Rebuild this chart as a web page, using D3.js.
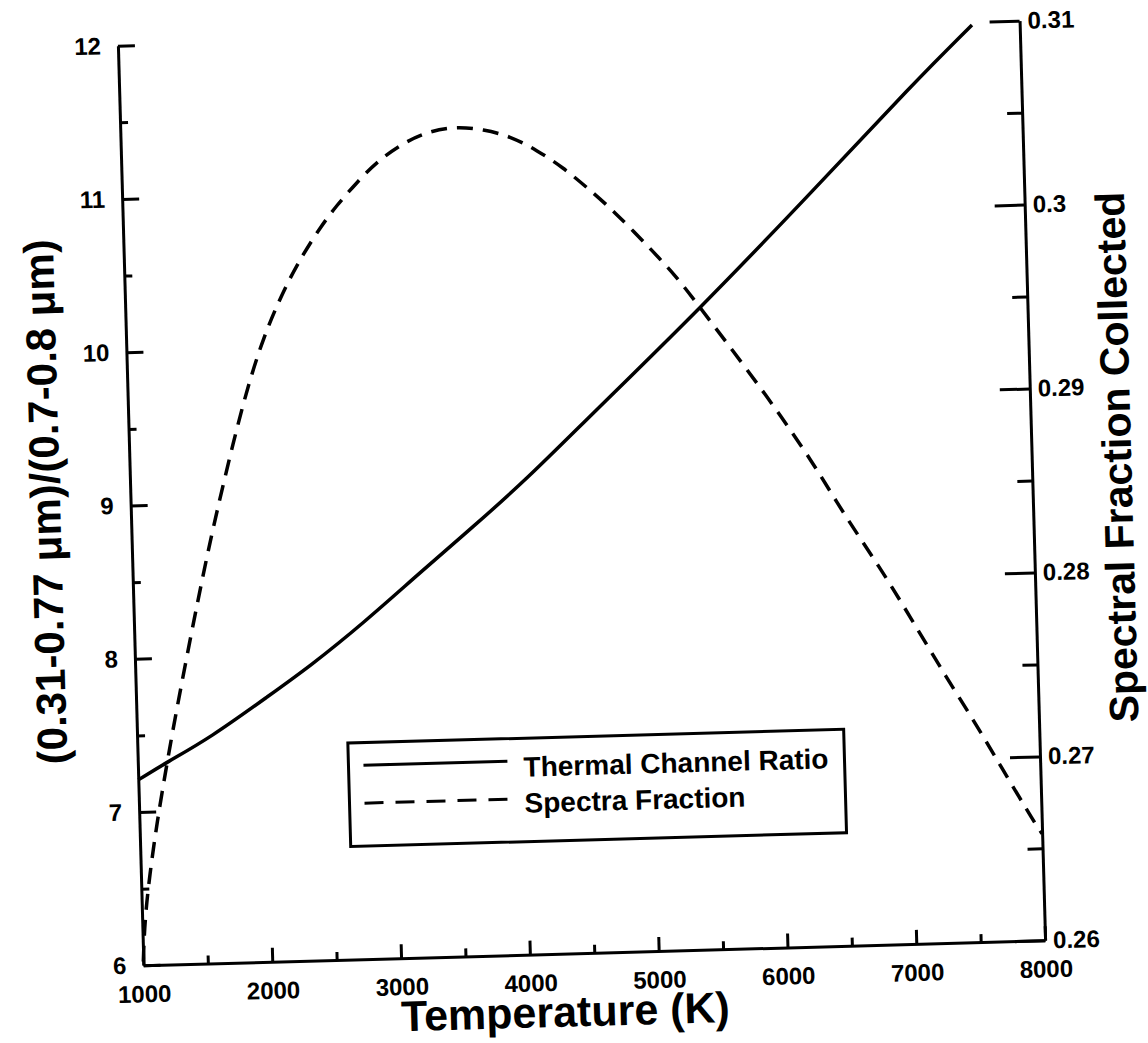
<!DOCTYPE html>
<html>
<head>
<meta charset="utf-8">
<script src="https://cdn.jsdelivr.net/npm/d3@7"></script>
<style>
  html, body { margin: 0; padding: 0; background: #fff; }
  svg text { font-family: "Liberation Sans", Arial, Helvetica, sans-serif; font-weight: bold; fill: #000; }
</style>
</head>
<body>
<svg id="chart" width="1148" height="1043"></svg>
<script>
// ---- data ----
const ratioTemps = [1000, 1225, 1565, 2040, 2357, 2779, 3230, 3653, 4078, 4582, 5459, 6363, 7162, 7630];
const ratioValues = [7.21, 7.32, 7.47, 7.74, 7.92, 8.19, 8.51, 8.80, 9.10, 9.50, 10.18, 10.93, 11.61, 11.98];

const fracTemps = [1000, 1023, 1102, 1179, 1283, 1431, 1579, 1695, 1896, 2066, 2257, 2393, 2528, 2663, 2823, 2983,
  3193, 3403, 3611, 3816, 4022, 4226, 4429, 4606, 4808, 5083, 5285, 5459, 5633, 5958, 6304, 6526, 6800, 7021,
  7293, 7515, 7687, 7960, 8000];
const fracValues = [0.2602, 0.2628, 0.2664, 0.2693, 0.2729, 0.2776, 0.2821, 0.2853, 0.2905, 0.2940, 0.2968, 0.2984,
  0.2998, 0.3010, 0.3022, 0.3033, 0.3043, 0.3049, 0.3051, 0.3049, 0.3045, 0.3037, 0.3027, 0.3016, 0.3003, 0.2982,
  0.2966, 0.2949, 0.2932, 0.2900, 0.2863, 0.2835, 0.2805, 0.2778, 0.2744, 0.2718, 0.2696, 0.2662, 0.2658];

const xMajorTicks = [1000, 2000, 3000, 4000, 5000, 6000, 7000, 8000];
const xMinorTicks = [1500, 2500, 3500, 4500, 5500, 6500, 7500];
const leftMajorTicks = [6, 7, 8, 9, 10, 11, 12];
const leftMinorTicks = [6.5, 7.5, 8.5, 9.5, 10.5, 11.5];
const rightMajorTicks = [0.26, 0.27, 0.28, 0.29, 0.30, 0.31];
const rightMinorTicks = [0.265, 0.275, 0.285, 0.295, 0.305];
const rightTickLabels = ["0.26", "0.27", "0.28", "0.29", "0.3", "0.31"];

const xTitle = "Temperature (K)";
const leftTitle = "(0.31-0.77 \u03BCm)/(0.7-0.8 \u03BCm)";
const rightTitle = "Spectral Fraction Collected";
const legendLabels = ["Thermal Channel Ratio", "Spectra Fraction"];

// ---- layout ----
const L = 130.5, R = 1032.5, T = 33, B = 953;
const svg = d3.select("#chart");
svg.append("rect").attr("width", 1148).attr("height", 1043).attr("fill", "#fff");
const g = svg.append("g").attr("transform", "rotate(-1.59, 581.5, 493.25)");

const x = d3.scaleLinear().domain([1000, 8000]).range([L, R]);
const yL = d3.scaleLinear().domain([6, 12]).range([B, T]);
const yR = d3.scaleLinear().domain([0.26, 0.31]).range([B, T]);

function styleAxis(sel, fs) {
  sel.select(".domain").attr("stroke", "#000").attr("stroke-width", 3);
  sel.selectAll(".tick line").attr("stroke", "#000").attr("stroke-width", 3);
  sel.selectAll(".tick text").style("font-size", fs + "px").attr("fill", "#000");
  sel.attr("font-family", null).attr("font-size", null);
}

// bottom axis
const xAx = g.append("g").attr("transform", `translate(0,${B})`)
  .call(d3.axisBottom(x).tickValues(xMajorTicks).tickSizeInner(-14).tickSizeOuter(0).tickPadding(20).tickFormat(d3.format("d")));
styleAxis(xAx, 24);
const xAxMin = g.append("g").attr("transform", `translate(0,${B})`)
  .call(d3.axisBottom(x).tickValues(xMinorTicks).tickSizeInner(-8).tickSizeOuter(0).tickFormat(""));
styleAxis(xAxMin, 24);
xAxMin.select(".domain").remove();

// left axis
const lAx = g.append("g").attr("transform", `translate(${L},0)`)
  .call(d3.axisLeft(yL).tickValues(leftMajorTicks).tickSizeInner(-17).tickSizeOuter(0).tickPadding(17).tickFormat(d3.format("d")));
styleAxis(lAx, 24);
const lAxMin = g.append("g").attr("transform", `translate(${L},0)`)
  .call(d3.axisLeft(yL).tickValues(leftMinorTicks).tickSizeInner(-8).tickSizeOuter(0).tickFormat(""));
styleAxis(lAxMin, 24);
lAxMin.select(".domain").remove();

// right axis
const rAx = g.append("g").attr("transform", `translate(${R},0)`)
  .call(d3.axisRight(yR).tickValues(rightMajorTicks).tickSizeInner(-30).tickSizeOuter(0).tickPadding(8)
    .tickFormat((d, i) => rightTickLabels[i]));
styleAxis(rAx, 24);
const rAxMin = g.append("g").attr("transform", `translate(${R},0)`)
  .call(d3.axisRight(yR).tickValues(rightMinorTicks).tickSizeInner(-15).tickSizeOuter(0).tickFormat(""));
styleAxis(rAxMin, 24);
rAxMin.select(".domain").remove();

// curves
const ratioData = ratioTemps.map((t, i) => [t, ratioValues[i]]);
const fracData = fracTemps.map((t, i) => [t, fracValues[i]]);

g.append("path").datum(ratioData)
  .attr("fill", "none").attr("stroke", "#000").attr("stroke-width", 3.5)
  .attr("d", d3.line().x(d => x(d[0])).y(d => yL(d[1])).curve(d3.curveBasis));

g.append("path").datum(fracData)
  .attr("fill", "none").attr("stroke", "#000").attr("stroke-width", 3.5)
  .attr("stroke-dasharray", "16,10")
  .attr("d", d3.line().x(d => x(d[0])).y(d => yR(d[1])).curve(d3.curveBasis));

// legend
const lg = g.append("g");
lg.append("rect").attr("x", 341).attr("y", 736.5).attr("width", 496).attr("height", 103.5)
  .attr("fill", "none").attr("stroke", "#000").attr("stroke-width", 3);
lg.append("line").attr("x1", 356).attr("x2", 500).attr("y1", 759).attr("y2", 759)
  .attr("stroke", "#000").attr("stroke-width", 3);
lg.append("line").attr("x1", 356).attr("x2", 500).attr("y1", 797).attr("y2", 797)
  .attr("stroke", "#000").attr("stroke-width", 3).attr("stroke-dasharray", "19,12");
lg.append("text").attr("x", 516).attr("y", 775).style("font-size", "28px").text(legendLabels[0]);
lg.append("text").attr("x", 516).attr("y", 811).style("font-size", "28px").text(legendLabels[1]);

// titles
g.append("text").attr("x", 551).attr("y", 1026).attr("text-anchor", "middle")
  .style("font-size", "43px").text(xTitle);
g.append("text").attr("transform", "translate(60,487) rotate(-90)").attr("text-anchor", "middle")
  .style("font-size", "42px").text(leftTitle);
g.append("text").attr("transform", "translate(1132,472) rotate(-90)").attr("text-anchor", "middle")
  .style("font-size", "41px").text(rightTitle);
</script>
</body>
</html>
